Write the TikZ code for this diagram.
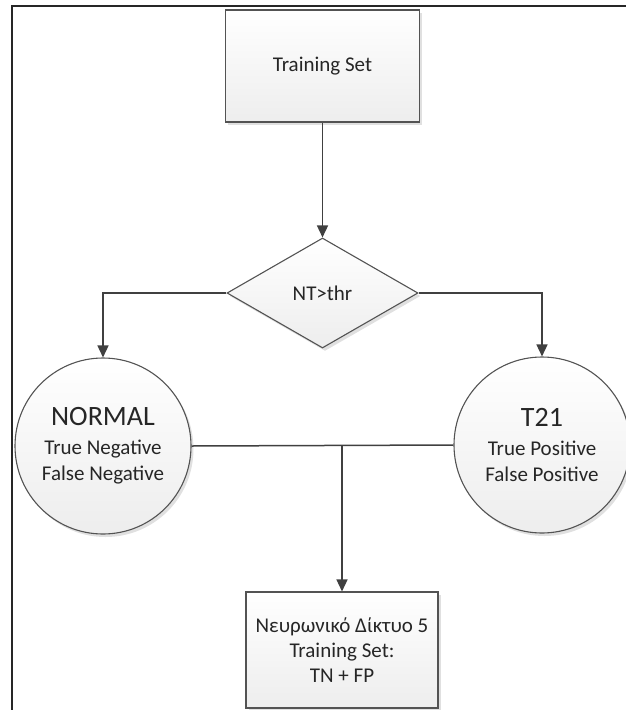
\documentclass[tikz,border=0pt]{standalone}
\usepackage{fontspec}
\setmainfont{Carlito}
\usepackage{xcolor}
\usepackage{tikz}
\usetikzlibrary{shapes.geometric,positioning}
\usetikzlibrary{calc}
\usetikzlibrary{arrows.meta,shadows}
\definecolor{trait}{HTML}{404040}
\definecolor{texte}{HTML}{262626}
\tikzset{
	forme/.style={draw=trait!90,line width=1.1pt,top color=white,bottom color=black!7,text=texte,
		drop shadow={shadow xshift=2.5pt,shadow yshift=-3pt,fill=black!12,opacity=1}},
	boite/.style={forme,rectangle,inner sep=0pt,align=center,font=\fontsize{21}{25}\selectfont},
	losange/.style={forme,diamond,inner sep=0pt,minimum width=191pt,minimum height=110pt,font=\fontsize{21}{25}\selectfont},
	cercle/.style={forme,circle,inner sep=0pt,minimum size=176pt,align=center,font=\petit},
	fleche/.style={draw=trait,line width=1.5pt,-{Triangle[width=11pt,length=12pt]}},
	lien/.style={draw=trait,line width=1.5pt}
}
\newcommand{\petit}{\fontsize{21}{26}\selectfont}
\newcommand{\grand}{\fontsize{28}{28}\selectfont}

\begin{document}
\begin{tikzpicture}[x=1pt,y=-1pt]
				\useasboundingbox (0,0) rectangle (626,710);
				
				%Cadre
				\draw[line width=2.2pt,black!85] (12,712) -- (12,6) -- (628,6);
				
				%Noeuds
				\node[boite,minimum width=194pt,minimum height=112pt] (train) at (322.5,66) {Training Set};
				\node[losange] (test) at (322.5,293) {NT>thr};
				\node[cercle] (normal) at (103,446) {{\grand NORMAL}\\[3pt]True Negative\\False Negative};
				\node[cercle] (t21) at (542,445) {{\grand T21}\\[3pt]True Positive\\False Positive};
				\node[boite,minimum width=192pt,minimum height=116pt] (reseau) at (342,650) {Νευρωνικό Δίκτυο 5\\Training Set:\\TN + FP};
				
				%Liens
				\draw[fleche] (train.south) -- (test.north);
				\draw[fleche] (test.west) -| (normal.north);
				\draw[fleche] (test.east) -| (t21.north);
				\draw[lien] (normal.east) -- (t21.west);
				\coordinate (jonction) at (reseau.north |- normal.east);
				\draw[fleche] (jonction) -- (reseau.north);
				
\end{tikzpicture}
\end{document}
